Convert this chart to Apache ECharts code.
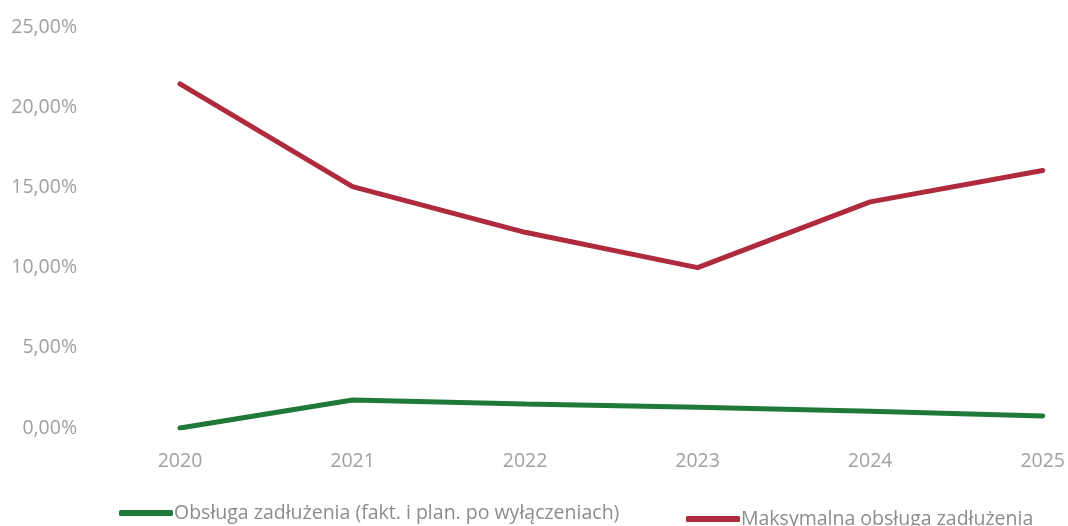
<!DOCTYPE html>
<html>
<head>
<meta charset="utf-8">
<script src="https://cdn.jsdelivr.net/npm/echarts@6/dist/echarts.min.js"></script>
<style>html,body{margin:0;padding:0;background:#fff}#c{width:1068px;height:526px}</style>
</head>
<body>
<div id="c"></div>
<script>
const categories = ['2020','2021','2022','2023','2024','2025'];
const seriesGreenName = 'Obsługa zadłużenia (fakt. i plan. po wyłączeniach)';
const seriesRedName = 'Maksymalna obsługa zadłużenia';
const greenValues = [0.0, 1.74, 1.5, 1.3, 1.05, 0.75];
const redValues = [21.45, 15.05, 12.2, 10.0, 14.1, 16.05];

const chart = echarts.init(document.getElementById('c'));
const txt = '#a0a0a0';
chart.setOption({
  animation: false,
  grid: {left: 180, right: 23, top: 27, bottom: 98},
  legend: [
    {left: 114, top: 498, data: [seriesGreenName], itemWidth: 54, itemHeight: 6, itemGap: 0,
     icon: 'roundRect', textStyle: {color: '#8c8c8c', fontSize: 19.5, fontFamily: 'Open Sans', padding: [0,0,0,-4]}},
    {left: 681, top: 504, data: [seriesRedName], itemWidth: 54, itemHeight: 6, itemGap: 0,
     icon: 'roundRect', textStyle: {color: '#8c8c8c', fontSize: 19.5, fontFamily: 'Open Sans', padding: [0,0,0,-4]}}
  ],
  xAxis: {
    type: 'category', data: categories, boundaryGap: false,
    axisLine: {show: false}, axisTick: {show: false},
    axisLabel: {color: txt, fontSize: 19.5, fontFamily: 'Open Sans', margin: 23}
  },
  yAxis: {
    type: 'value', min: 0, max: 25, interval: 5,
    splitLine: {show: false}, axisLine: {show: false}, axisTick: {show: false},
    axisLabel: {color: txt, fontSize: 19.5, fontFamily: 'Open Sans', margin: 103,
      formatter: v => v.toFixed(2).replace('.', ',') + '%'}
  },
  series: [
    {name: seriesGreenName, type: 'line', data: greenValues, symbol: 'none',
     lineStyle: {width: 5, color: '#1f7a3a', cap: 'round'}, itemStyle: {color: '#1f7a3a'}},
    {name: seriesRedName, type: 'line', data: redValues, symbol: 'none',
     lineStyle: {width: 5, color: '#b02a3e', cap: 'round'}, itemStyle: {color: '#b02a3e'}}
  ]
});
</script>
</body>
</html>
